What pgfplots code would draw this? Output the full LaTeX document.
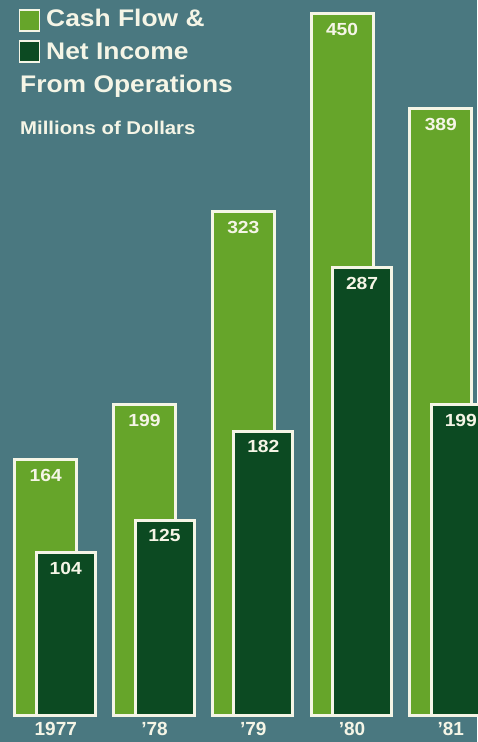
\documentclass[border=0pt]{standalone}
\usepackage{fontspec}
\setmainfont{Liberation Sans}
\newfontfamily\wide{Liberation Sans}[FakeStretch=1.1]
\usepackage{pgfplots}
\pgfplotsset{compat=1.18}
\definecolor{bgc}{HTML}{4A7880}
\definecolor{lg}{HTML}{66A52A}
\definecolor{dg}{HTML}{0C4A22}
\definecolor{cr}{HTML}{F5F5E6}
\begin{document}
\begin{tikzpicture}[x=1pt,y=1pt]
\path[use as bounding box] (0,0) rectangle (477,742);
\fill[bgc] (0,0) rectangle (477,742);
\begin{axis}[
 at={(0pt,27pt)}, anchor=south west,
 scale only axis, width=477pt, height=715pt,
 xmin=-0.565, xmax=4.265, ymin=0, ymax=458.6,
 axis line style={draw=none}, ytick=\empty,
 xtick={0,...,4}, xticklabels={1977,'78,'79,'80,'81},
 major tick length=0pt,
 xticklabel style={font=\bfseries\fontsize{19}{19}\selectfont, text=cr, inner sep=0pt, yshift=-7pt},
 ybar, clip=false,
 /pgf/number format/assume math mode=true,
 nodes near coords={\pgfmathprintnumber[assume math mode=true]{\pgfplotspointmeta}},
 nodes near coords align=below,
 every node near coord/.append style={yshift=-8pt, inner sep=0pt, text=cr, font=\wide\bfseries\fontsize{17.5}{17.5}\selectfont},
]
\addplot[fill=lg, draw=cr, line width=3pt, bar width=62pt, bar shift=-10pt] coordinates {(0,164) (1,199) (2,323) (3,450) (4,389)};
\addplot[fill=dg, draw=cr, line width=3pt, bar width=59pt, bar shift=10pt] coordinates {(0,104) (1,125) (2,182) (3,287) (4,199)};
\end{axis}
\filldraw[fill=lg, draw=cr, line width=1.5pt] (19.5,711) rectangle (39.5,732);
\filldraw[fill=dg, draw=cr, line width=1.5pt] (19.5,680) rectangle (39.5,701);
\begin{scope}[every node/.style={anchor=base west, inner sep=0pt, text=cr}]
\node[font=\wide\bfseries\fontsize{24}{24}\selectfont] at (46,715) {Cash Flow \&};
\node[font=\wide\bfseries\fontsize{24}{24}\selectfont] at (46,682) {Net Income};
\node[font=\wide\bfseries\fontsize{24}{24}\selectfont] at (20,649.5) {From Operations};
\node[font=\wide\bfseries\fontsize{18.5}{18.5}\selectfont] at (20,607) {Millions of Dollars};
\end{scope}
\end{tikzpicture}
\end{document}
